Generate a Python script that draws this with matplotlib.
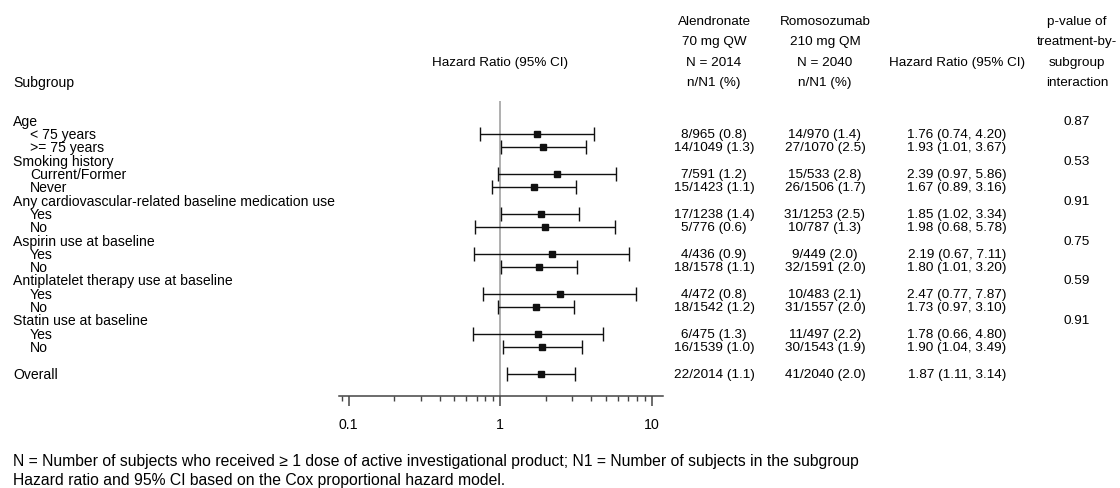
import matplotlib
matplotlib.use('Agg')
import matplotlib.pyplot as plt
import matplotlib.transforms as mtransforms
from matplotlib.ticker import FixedLocator, LogLocator, NullFormatter

plt.rcParams['font.family'] = ['Liberation Sans', 'DejaVu Sans']

groups = ['Age', 'Smoking history', 'Any cardiovascular-related baseline medication use',
          'Aspirin use at baseline', 'Antiplatelet therapy use at baseline', 'Statin use at baseline']
sub_labels = [['< 75 years', '>= 75 years'], ['Current/Former', 'Never'], ['Yes', 'No'],
              ['Yes', 'No'], ['Yes', 'No'], ['Yes', 'No']]
p_values = ['0.87', '0.53', '0.91', '0.75', '0.59', '0.91']

# subgroup rows, then Overall last
hr = [1.76, 1.93, 2.39, 1.67, 1.85, 1.98, 2.19, 1.80, 2.47, 1.73, 1.78, 1.90, 1.87]
ci_low = [0.74, 1.01, 0.97, 0.89, 1.02, 0.68, 0.67, 1.01, 0.77, 0.97, 0.66, 1.04, 1.11]
ci_high = [4.20, 3.67, 5.86, 3.16, 3.34, 5.78, 7.11, 3.20, 7.87, 3.10, 4.80, 3.49, 3.14]
aln_n = [8, 14, 7, 15, 17, 5, 4, 18, 4, 18, 6, 16, 22]
aln_N1 = [965, 1049, 591, 1423, 1238, 776, 436, 1578, 472, 1542, 475, 1539, 2014]
aln_pct = ['0.8', '1.3', '1.2', '1.1', '1.4', '0.6', '0.9', '1.1', '0.8', '1.2', '1.3', '1.0', '1.1']
rom_n = [14, 27, 15, 26, 31, 10, 9, 32, 10, 31, 11, 30, 41]
rom_N1 = [970, 1070, 533, 1506, 1253, 787, 449, 1591, 483, 1557, 497, 1543, 2040]
rom_pct = ['1.4', '2.5', '2.8', '1.7', '2.5', '1.3', '2.0', '2.0', '2.1', '2.0', '2.2', '1.9', '2.0']

x_ticks = [0.1, 1, 10]
x_ticklabels = ['0.1', '1', '10']

FS = 9.7      # table text
LFS = 10.1    # subgroup labels
NFS = 11.35   # footnotes
W, H = 1120, 489

fig = plt.figure(figsize=(W / 100, H / 100), dpi=100)
ax = fig.add_axes([338.6 / W, (H - 397) / H, (663 - 338.6) / W, (397 - 102) / H])

# row positions: group header, two subgroups, ..., blank, Overall
rows = []
header_rows = []
r = 0
for g in groups:
    header_rows.append(r)
    rows += [r + 1, r + 2]
    r += 3
rows.append(r + 1)

ax.set_xscale('log')
ax.set_xlim(0.086, 11.9)
ax.set_ylim(20.68, -1.48)

ax.axvline(1, color='#9a9a9a', lw=1.1, zorder=1)
for i, y in enumerate(rows):
    ax.errorbar(hr[i], y, xerr=[[hr[i] - ci_low[i]], [ci_high[i] - hr[i]]],
                fmt='s', color='#111111', ms=3.8, elinewidth=1, capsize=5,
                capthick=1, zorder=3)

for s in ['left', 'right', 'top']:
    ax.spines[s].set_visible(False)
ax.spines['bottom'].set_color('#444444')
ax.spines['bottom'].set_linewidth(1.1)
ax.set_yticks([])
ax.xaxis.set_major_locator(FixedLocator(x_ticks))
ax.set_xticklabels(x_ticklabels)
ax.xaxis.set_minor_locator(LogLocator(base=10, subs=range(2, 10)))
ax.xaxis.set_minor_formatter(NullFormatter())
ax.tick_params(axis='x', which='major', length=7, width=1.1, color='#444444',
               labelsize=FS + 0.5, pad=8)
ax.tick_params(axis='x', which='minor', length=3.5, width=1, color='#444444')

tr = mtransforms.blended_transform_factory(fig.transFigure, ax.transData)

for k, g in enumerate(groups):
    hy = header_rows[k]
    ax.text(13 / W, hy, g, transform=tr, fontsize=LFS, va='center', ha='left')
    for j, lab in enumerate(sub_labels[k]):
        ax.text(30 / W, hy + 1 + j, lab, transform=tr, fontsize=LFS, va='center', ha='left')
    ax.text(1077 / W, hy, p_values[k], transform=tr, fontsize=FS, va='center', ha='center')
ax.text(13 / W, rows[-1], 'Overall', transform=tr, fontsize=LFS, va='center', ha='left')

for i, y in enumerate(rows):
    ax.text(714 / W, y, f'{aln_n[i]}/{aln_N1[i]} ({aln_pct[i]})', transform=tr,
            fontsize=FS, va='center', ha='center')
    ax.text(825 / W, y, f'{rom_n[i]}/{rom_N1[i]} ({rom_pct[i]})', transform=tr,
            fontsize=FS, va='center', ha='center')
    ax.text(957 / W, y, f'{hr[i]:.2f} ({ci_low[i]:.2f}, {ci_high[i]:.2f})', transform=tr,
            fontsize=FS, va='center', ha='center')


def fy(py):
    return (H - py) / H


# column headers
header_lines = [21.7, 42.3, 63.3, 83.3]
aln_head = ['Alendronate', '70 mg QW', 'N = 2014', 'n/N1 (%)']
rom_head = ['Romosozumab', '210 mg QM', 'N = 2040', 'n/N1 (%)']
p_head = ['p-value of', 'treatment-by-', 'subgroup', 'interaction']
for j, py in enumerate(header_lines):
    fig.text(714 / W, fy(py), aln_head[j], fontsize=FS, ha='center', va='center')
    fig.text(825 / W, fy(py), rom_head[j], fontsize=FS, ha='center', va='center')
    fig.text(1077 / W, fy(py), p_head[j], fontsize=FS, ha='center', va='center')
fig.text(957 / W, fy(63.3), 'Hazard Ratio (95% CI)', fontsize=FS, ha='center', va='center')
fig.text(500 / W, fy(63.3), 'Hazard Ratio (95% CI)', fontsize=FS, ha='center', va='center')
fig.text(13 / W, fy(83.3), 'Subgroup', fontsize=LFS, ha='left', va='center')

fig.text(13 / W, fy(462), 'N = Number of subjects who received \u2265 1 dose of active investigational '
         'product; N1 = Number of subjects in the subgroup', fontsize=NFS, ha='left', va='center')
fig.text(13 / W, fy(481), 'Hazard ratio and 95% CI based on the Cox proportional hazard model.',
         fontsize=NFS, ha='left', va='center')

fig.savefig('out.png', dpi=100)
